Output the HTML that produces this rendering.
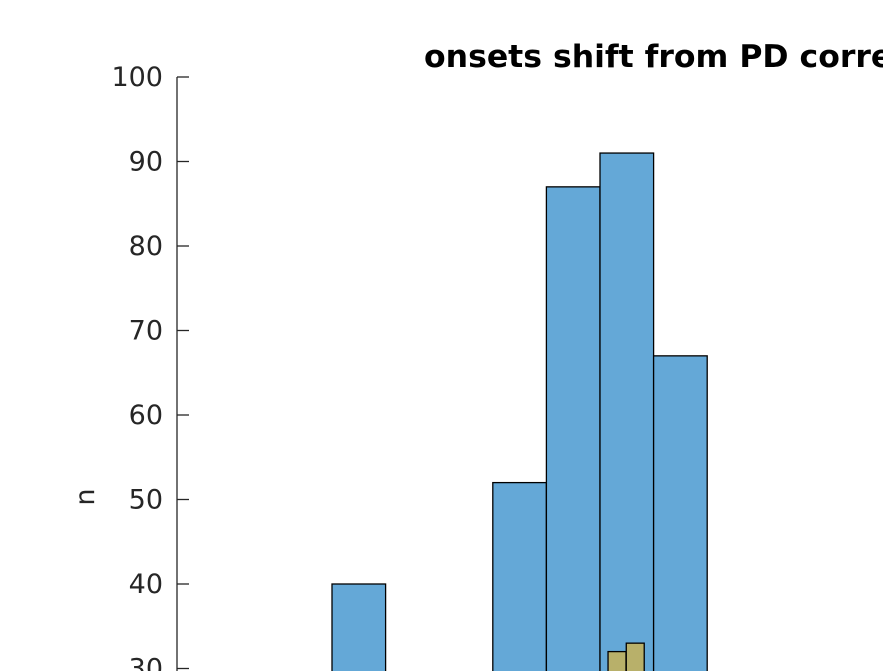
<!DOCTYPE html>
<html><head><meta charset="utf-8"><style>
html,body{margin:0;padding:0;background:#fff;width:883px;height:671px;overflow:hidden}
svg{display:block;overflow:hidden;font-family:"DejaVu Sans","Liberation Sans",sans-serif}
</style></head><body>
<svg id="chart" width="883" height="671">
<text x="424" y="67" font-size="31.5" font-weight="bold" fill="#000">onsets shift from PD correlation</text>
<text transform="translate(94,497) rotate(-90)" text-anchor="middle" font-size="27" fill="#262626">n</text>
<g id="yaxis"></g>
<g id="bars"></g>
</svg>
<script>
const yTicks = [30,40,50,60,70,80,90,100];
const blueStarts = [0,3,4,5,6];
const blueCounts = [40,52,87,91,67];
const blueWidth = 1;
const yellowStarts = [5.15,5.49];
const yellowCounts = [32,33];
const yellowWidth = 0.335;

const ns='http://www.w3.org/2000/svg';
const BOTTOM=671;
function y(v){return 77+(100-v)*8.45;}
function x(v){return 332+v*53.6;}
const ya=document.getElementById('yaxis'), bars=document.getElementById('bars');
function mk(t,a,p){const e=document.createElementNS(ns,t);for(const k in a)e.setAttribute(k,a[k]);p.appendChild(e);return e;}
function bar(s,c,w,fill,name){
  const top=y(c);
  const r=mk('rect',{x:x(s),y:top,width:x(s+w)-x(s),height:Math.max(0,BOTTOM+2-top),fill:fill,stroke:'#000','stroke-width':1.3},bars);
  
  
}
blueStarts.forEach((s,i)=>bar(s,blueCounts[i],blueWidth,'#64a8d7','bar-blue-'+i));
yellowStarts.forEach((s,i)=>bar(s,yellowCounts[i],yellowWidth,'#b8b06a','bar-yellow-'+i));
const ax=mk('line',{x1:177,x2:177,y1:y(100),y2:BOTTOM,stroke:'#262626','stroke-width':1.3},ya);


yTicks.forEach(v=>{
  const l=mk('line',{x1:177,x2:189,y1:y(v),y2:y(v),stroke:'#262626','stroke-width':1.3},ya);
  
  
  const t=mk('text',{x:163,y:y(v)+9,'text-anchor':'end','font-size':27,fill:'#262626'},ya);
  t.textContent=v;
  
  
});
</script>
</body></html>
